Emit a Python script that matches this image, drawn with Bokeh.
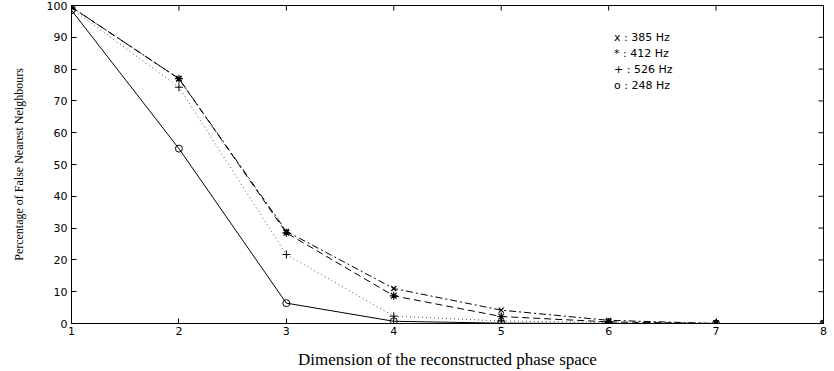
import math
from bokeh.plotting import figure
from bokeh.models import FixedTicker, Range1d, ColumnDataSource
from bokeh.core.properties import value
from bokeh.embed import file_html
from bokeh.resources import INLINE

# ---- data ----
dimension = [1, 2, 3, 4, 5, 6, 7, 8]
fnn_385 = [99.5, 77.0, 29.0, 11.0, 4.2, 1.0, 0.0, 0.0]
fnn_412 = [99.5, 77.0, 28.5, 8.7, 2.2, 0.5, 0.0, 0.0]
fnn_526 = [99.0, 74.3, 21.7, 2.3, 0.8, 0.3, 0.0, 0.0]
fnn_248 = [98.5, 55.0, 6.4, 0.7, 0.1, 0.0, 0.0, 0.0]
legend_labels = ["x : 385 Hz", "* : 412 Hz", "+ : 526 Hz", "o : 248 Hz"]
x_ticks = [1, 2, 3, 4, 5, 6, 7, 8]
y_ticks = [0, 10, 20, 30, 40, 50, 60, 70, 80, 90, 100]

X_MIN, X_MAX = 1, 8
Y_MIN, Y_MAX = 0, 100

# legend annotation placement (data coordinates)
legend_x = [6.05] * 4
legend_y = [90, 85, 80, 75]

p = figure(width=834, height=371, output_backend="svg", toolbar_location=None,
           x_range=Range1d(X_MIN, X_MAX), y_range=Range1d(Y_MIN, Y_MAX),
           min_border_left=71, min_border_right=11, min_border_top=5,
           min_border_bottom=47)
p.background_fill_color = "white"
p.border_fill_color = "white"
p.outline_line_color = "black"
p.outline_line_width = 1
p.xgrid.visible = False
p.ygrid.visible = False

SANS = "DejaVu Sans"

for ax in p.xaxis:
    ax.ticker = FixedTicker(ticks=x_ticks)
    ax.axis_label = "Dimension of the reconstructed phase space"
    ax.axis_label_text_font = "Liberation Serif"
    ax.axis_label_text_font_style = "normal"
    ax.axis_label_text_font_size = "17px"
    ax.axis_label_standoff = 12
    ax.major_label_text_font = SANS
    ax.major_label_text_font_size = "11px"
    ax.major_label_standoff = 3
for ax in p.yaxis:
    ax.ticker = FixedTicker(ticks=y_ticks)
    ax.axis_label = "Percentage of False Nearest Neighbours"
    ax.axis_label_text_font = "Liberation Serif"
    ax.axis_label_text_font_style = "normal"
    ax.axis_label_text_font_size = "12px"
    ax.axis_label_standoff = 18
    ax.major_label_text_font = SANS
    ax.major_label_text_font_size = "11px"
    ax.major_label_standoff = 4

for ax in list(p.xaxis) + list(p.yaxis):
    ax.major_tick_in = 5
    ax.major_tick_out = 0
    ax.minor_tick_in = 0
    ax.minor_tick_out = 0
    ax.axis_line_color = "black"
    ax.major_tick_line_color = "black"
    ax.major_label_text_color = "black"
    ax.axis_label_text_color = "black"

# inward ticks on top and right frame edges (half of each dash is clipped by the frame)
top_src = ColumnDataSource(dict(x=x_ticks, y=[Y_MAX] * len(x_ticks)))
right_src = ColumnDataSource(dict(x=[X_MAX] * len(y_ticks), y=y_ticks))
p.scatter("x", "y", source=top_src, marker="dash", size=10, angle=math.pi / 2,
          line_color="black", line_width=1)
p.scatter("x", "y", source=right_src, marker="dash", size=10,
          line_color="black", line_width=1)

src = ColumnDataSource(dict(x=dimension, a=fnn_385, b=fnn_412, c=fnn_526, d=fnn_248))

# 385 Hz: dash-dot with x markers
p.line("x", "a", source=src, line_color="black", line_width=1, line_dash="7 3 2 3")
p.scatter("x", "a", source=src, marker="x", size=7, line_color="black", line_width=1.2)
# 412 Hz: dashed with asterisks
p.line("x", "b", source=src, line_color="black", line_width=1, line_dash="7 4")
p.scatter("x", "b", source=src, marker="asterisk", size=8, line_color="black", line_width=1.2)
# 526 Hz: dotted with plus
p.line("x", "c", source=src, line_color="#555555", line_width=1, line_dash="1 3")
p.scatter("x", "c", source=src, marker="cross", size=8, line_color="black", line_width=1)
# 248 Hz: solid with circles
p.line("x", "d", source=src, line_color="black", line_width=1)
p.scatter("x", "d", source=src, marker="circle", size=7, line_color="black",
          fill_color=None, line_width=1)

leg = ColumnDataSource(dict(x=legend_x, y=legend_y, t=legend_labels))
p.text("x", "y", text="t", source=leg, text_font=value(SANS), text_font_size="11px",
       text_baseline="middle", text_align="left", text_color="black")

open("out.html", "w").write(file_html(p, INLINE))
